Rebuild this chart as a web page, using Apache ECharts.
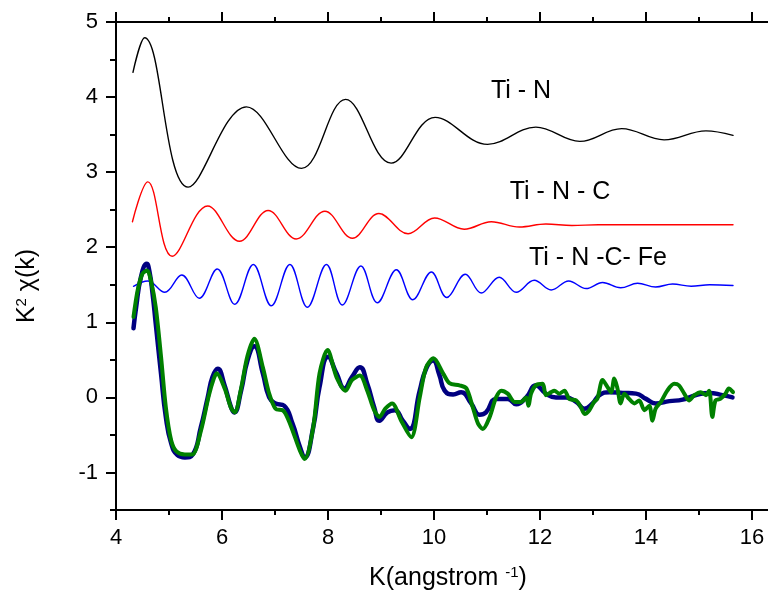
<!DOCTYPE html>
<html>
<head>
<meta charset="utf-8">
<script src="https://cdn.jsdelivr.net/npm/echarts@6/dist/echarts.min.js"></script>
<style>
  html, body { margin: 0; padding: 0; background: #ffffff; }
  #chart { width: 768px; height: 593px; }
</style>
</head>
<body>
<div id="chart"></div>
<script>
// k (1/Å) against k²·χ(k); the three model paths are shifted upward for clarity.
// Model paths are given by their turning points and drawn as smoothed lines.
const tiN = [
  [4.32,4.33],[4.54,4.79],[5.36,2.80],[6.46,3.87],[7.50,3.05],[8.33,3.97],[9.19,3.12],
  [10.02,3.73],[11.01,3.37],[11.92,3.60],[12.75,3.41],[13.54,3.58],[14.34,3.43],[15.13,3.55],[15.64,3.49]
];

const tiNC = [
  [4.31,2.34],[4.60,2.87],[5.06,1.88],[5.73,2.55],[6.33,2.08],[6.87,2.49],[7.40,2.11],[7.94,2.48],
  [8.46,2.12],[8.96,2.45],[9.51,2.18],[10.01,2.39],[10.57,2.24],[11.08,2.34],[11.61,2.27],[12.11,2.31],
  [12.60,2.29],[13.10,2.30],[15.64,2.30]
];

const tiNCFe = [
  [4.33,1.48],[4.60,1.55],[4.92,1.40],[5.24,1.63],[5.57,1.32],[5.91,1.71],[6.24,1.24],[6.59,1.77],
  [6.93,1.22],[7.28,1.77],[7.61,1.20],[7.97,1.77],[8.27,1.23],[8.62,1.75],[8.93,1.26],[9.29,1.70],
  [9.60,1.30],[9.95,1.67],[10.24,1.33],[10.59,1.64],[10.89,1.39],[11.23,1.60],[11.55,1.40],[11.89,1.56],
  [12.21,1.43],[12.54,1.55],[12.87,1.45],[13.18,1.53],[13.52,1.46],[13.84,1.52],[14.18,1.47],[14.50,1.51],
  [14.85,1.48],[15.20,1.50],[15.64,1.49]
];

const fitCurve = [
  [4.33,0.92],[4.38,1.20],[4.47,1.60],[4.58,1.78],[4.63,1.68],[4.69,1.38],[4.75,0.98],[4.85,0.31],
  [4.94,-0.26],[5.04,-0.61],[5.16,-0.77],[5.30,-0.80],[5.45,-0.76],[5.60,-0.40],[5.73,0.00],[5.82,0.27],
  [5.92,0.38],[6.04,0.18],[6.17,-0.13],[6.23,-0.20],[6.36,0.09],[6.48,0.49],[6.61,0.68],[6.77,0.32],
  [6.89,0.00],[7.01,-0.08],[7.17,-0.11],[7.33,-0.35],[7.47,-0.66],[7.56,-0.80],[7.72,-0.40],[7.84,0.14],
  [8.00,0.54],[8.16,0.32],[8.31,0.12],[8.45,0.27],[8.60,0.40],[8.74,0.18],[8.87,-0.13],[8.97,-0.31],
  [9.12,-0.20],[9.26,-0.17],[9.41,-0.31],[9.54,-0.42],[9.73,0.09],[9.85,0.38],[9.98,0.49],[10.10,0.30],
  [10.20,0.09],[10.36,0.04],[10.51,0.07],[10.70,-0.08],[10.86,-0.23],[10.98,-0.20],[11.17,-0.02],[11.39,-0.02],
  [11.55,-0.09],[11.74,0.00],[11.92,0.16],[12.11,0.05],[12.30,0.00],[12.49,0.00],[12.68,-0.06],[12.84,-0.15],
  [12.99,-0.08],[13.12,0.03],[13.31,0.07],[13.56,0.06],[13.81,0.05],[14.00,-0.02],[14.18,-0.08],[14.44,-0.05],
  [14.69,-0.03],[14.94,0.03],[15.19,0.06],[15.44,0.03],[15.63,0.00]
];

const measured = [
  [4.33,1.07],[4.41,1.43],[4.50,1.65],[4.59,1.69],[4.66,1.55],[4.75,1.20],[4.85,0.54],[4.94,-0.13],
  [5.04,-0.57],[5.14,-0.72],[5.30,-0.76],[5.44,-0.76],[5.60,-0.45],[5.75,0.02],[5.84,0.24],[5.90,0.32],
  [6.05,0.12],[6.17,-0.14],[6.24,-0.20],[6.36,0.12],[6.48,0.55],[6.61,0.78],[6.77,0.40],[6.89,0.05],
  [7.01,-0.15],[7.14,-0.17],[7.20,-0.22],[7.31,-0.40],[7.47,-0.71],[7.56,-0.82],[7.72,-0.40],[7.84,0.32],
  [7.99,0.63],[8.16,0.27],[8.33,0.09],[8.45,0.23],[8.60,0.29],[8.74,0.09],[8.87,-0.17],[8.97,-0.26],
  [9.08,-0.15],[9.21,-0.08],[9.38,-0.31],[9.57,-0.53],[9.73,0.00],[9.85,0.40],[9.99,0.52],[10.17,0.32],
  [10.29,0.19],[10.48,0.16],[10.61,0.12],[10.73,-0.13],[10.83,-0.35],[10.92,-0.42],[11.05,-0.26],[11.17,0.00],
  [11.27,0.09],[11.39,0.05],[11.52,-0.06],[11.64,-0.06],[11.74,0.00],[11.78,-0.11],[11.83,0.05],[11.92,0.16],
  [12.05,0.18],[12.11,0.03],[12.21,0.07],[12.27,0.09],[12.36,0.05],[12.46,0.09],[12.55,-0.02],[12.68,-0.04],
  [12.77,-0.13],[12.84,-0.22],[12.93,-0.17],[13.02,-0.06],[13.08,-0.02],[13.18,0.23],[13.27,0.14],[13.34,0.07],
  [13.40,0.25],[13.46,0.12],[13.52,-0.08],[13.59,0.05],[13.68,-0.02],[13.78,-0.08],[13.87,-0.04],[13.97,-0.17],
  [14.06,-0.11],[14.12,-0.31],[14.18,-0.15],[14.28,-0.06],[14.40,0.09],[14.53,0.18],[14.62,0.16],[14.72,0.05],
  [14.81,-0.04],[14.91,0.03],[15.03,0.07],[15.13,0.03],[15.19,0.09],[15.25,-0.26],[15.31,-0.04],[15.40,-0.02],
  [15.50,0.05],[15.56,0.12],[15.64,0.07]
];

// Tick positions
const xMajorTicks = [4, 6, 8, 10, 12, 14, 16];
const xMinorTicks = [5, 7, 9, 11, 13, 15];
const yMajorTicks = [-1, 0, 1, 2, 3, 4, 5];
const yMinorTicks = [-1.5, -0.5, 0.5, 1.5, 2.5, 3.5, 4.5];

// Text
const curveLabels = ['Ti - N', 'Ti - N - C', 'Ti - N -C- Fe'];
const xTitle = 'K(angstrom {sup|-1})';
const yTitle = 'K{sup|2} χ(k)';

const FONT = '"Liberation Sans", Arial, Helvetica, sans-serif';
const X_MIN = 4, X_MAX = 16.3, Y_MIN = -1.5, Y_MAX = 5;

const axisLineStyle = { color: '#000', width: 2 };

function xAxisDef(position, ticks, len, showLine, showLabel) {
  return {
    type: 'value', position, min: X_MIN, max: X_MAX,
    axisLine: { show: showLine, onZero: false, lineStyle: axisLineStyle },
    axisTick: { show: true, inside: false, length: len, customValues: ticks,
                lineStyle: { color: '#000', width: 2 } },
    axisLabel: showLabel
      ? { show: true, customValues: ticks, margin: 17, color: '#000', fontSize: 22, fontFamily: FONT }
      : { show: false },
    splitLine: { show: false }
  };
}

function yAxisDef(ticks, len, showLine, showLabel) {
  return {
    type: 'value', position: 'left', min: Y_MIN, max: Y_MAX,
    axisLine: { show: showLine, onZero: false, lineStyle: axisLineStyle },
    axisTick: { show: true, inside: false, length: len, customValues: ticks,
                lineStyle: { color: '#000', width: 2 } },
    axisLabel: showLabel
      ? { show: true, customValues: ticks, margin: 18, color: '#000', fontSize: 22, fontFamily: FONT }
      : { show: false },
    splitLine: { show: false }
  };
}

function lineSeries(name, data, color, width, smooth, z) {
  return {
    name, type: 'line', data, xAxisIndex: 0, yAxisIndex: 0,
    showSymbol: false, symbol: 'none', smooth, z,
    lineStyle: { color, width, cap: 'round', join: 'round' },
    clip: true
  };
}

const chart = echarts.init(document.getElementById('chart'), null, { renderer: 'canvas' });

const labelPos = [[521, 91], [560, 192], [598, 258]];

chart.setOption({
  animation: false,
  backgroundColor: '#ffffff',
  grid: { left: 116, top: 22, width: 653, height: 488, containLabel: false },
  xAxis: [
    xAxisDef('bottom', xMajorTicks, 10, true, true),
    xAxisDef('bottom', xMinorTicks, 5, false, false),
    xAxisDef('top', xMajorTicks, 10, true, false),
    xAxisDef('top', xMinorTicks, 5, false, false)
  ],
  yAxis: [
    yAxisDef(yMajorTicks, 10, true, true),
    yAxisDef(yMinorTicks, 6, false, false)
  ],
  series: [
    lineSeries(curveLabels[0], tiN, '#000000', 1.4, 0.38, 2),
    lineSeries(curveLabels[1], tiNC, '#ff0000', 1.4, 0.38, 2),
    lineSeries(curveLabels[2], tiNCFe, '#0000ff', 1.4, 0.38, 2),
    lineSeries('fit', fitCurve, '#000080', 4.5, 0.5, 3),
    lineSeries('experiment', measured, '#008000', 4, 0.3, 4)
  ],
  graphic: [
    ...curveLabels.map((t, i) => ({
      type: 'text', x: labelPos[i][0], y: labelPos[i][1], z: 10,
      style: { text: t, fill: '#000', fontSize: 25, fontFamily: FONT, align: 'center', verticalAlign: 'middle' }
    })),
    {
      type: 'text', x: 448, y: 578, z: 10,
      style: {
        text: xTitle, fill: '#000', fontSize: 25, fontFamily: FONT, align: 'center', verticalAlign: 'middle',
        rich: { sup: { fontSize: 15, fontFamily: FONT, fill: '#000', verticalAlign: 'top' } }
      }
    },
    {
      type: 'text', x: 27, y: 286, rotation: Math.PI / 2, z: 10,
      style: {
        text: yTitle, fill: '#000', fontSize: 25, fontFamily: FONT, align: 'center', verticalAlign: 'middle',
        rich: { sup: { fontSize: 15, fontFamily: FONT, fill: '#000', verticalAlign: 'top' } }
      }
    }
  ]
});
</script>
</body>
</html>
